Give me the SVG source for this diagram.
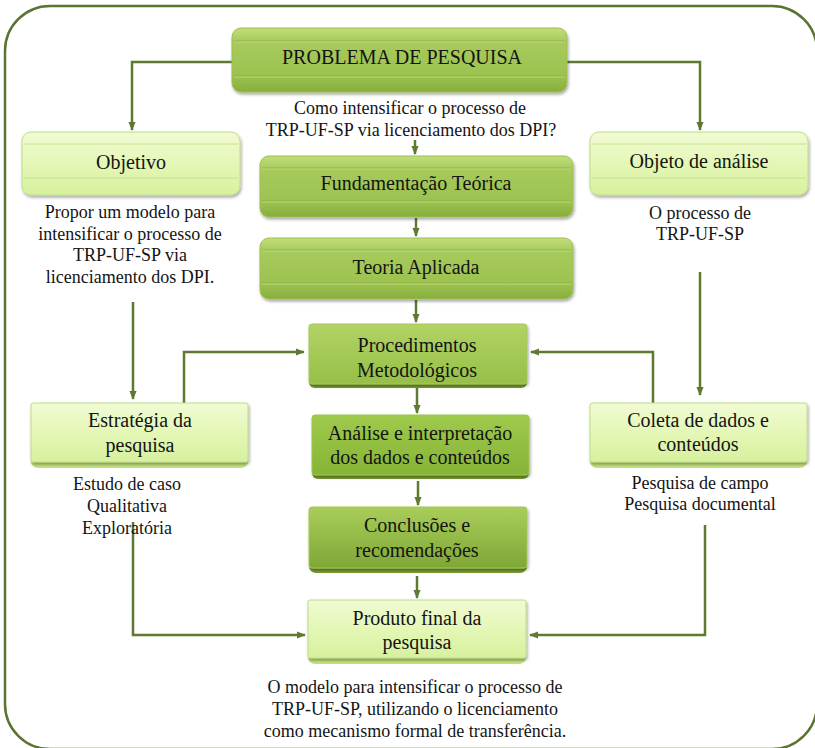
<svg xmlns="http://www.w3.org/2000/svg" width="815" height="748" viewBox="0 0 815 748">
  <defs>
    <linearGradient id="gDark" x1="0" y1="0" x2="0" y2="1">
      <stop offset="0" stop-color="#c3de7a"/>
      <stop offset="0.2" stop-color="#a8cb5c"/>
      <stop offset="0.75" stop-color="#9cc24f"/>
      <stop offset="1" stop-color="#87ad3d"/>
    </linearGradient>
    <linearGradient id="gMid" x1="0" y1="0" x2="0" y2="1">
      <stop offset="0" stop-color="#b2d365"/>
      <stop offset="1" stop-color="#96bf48"/>
    </linearGradient>
    <linearGradient id="gDeep" x1="0" y1="0" x2="0" y2="1">
      <stop offset="0" stop-color="#9fca4c"/>
      <stop offset="1" stop-color="#86b436"/>
    </linearGradient>
    <linearGradient id="gConc" x1="0" y1="0" x2="0" y2="1">
      <stop offset="0" stop-color="#a9cd5a"/>
      <stop offset="1" stop-color="#7fa736"/>
    </linearGradient>
    <linearGradient id="gLight" x1="0" y1="0" x2="0" y2="1">
      <stop offset="0" stop-color="#f1fbd4"/>
      <stop offset="0.5" stop-color="#e4f7b6"/>
      <stop offset="1" stop-color="#d6f19e"/>
    </linearGradient>
    <filter id="shadow" x="-10%" y="-20%" width="120%" height="150%">
      <feDropShadow dx="1" dy="2" stdDeviation="1.6" flood-color="#000" flood-opacity="0.35"/>
    </filter>
    <marker id="arrow" markerUnits="userSpaceOnUse" markerWidth="9" markerHeight="9" viewBox="0 0 10 10" refX="9" refY="5" orient="auto">
      <path d="M0,1 L10,5 L0,9 Z" fill="#5e7a30"/>
    </marker>
  </defs>
  <style>
    text { font-family: "Liberation Serif", "Times New Roman", serif; fill: #141414; text-anchor: middle; }
    .t { font-size: 20px; }
    .b { font-size: 18px; }
    .conn path { fill: none; stroke: #5e7a30; stroke-width: 2.5; }
    .frame { fill: none; stroke: #5b7431; stroke-width: 2.5; }
    .dark { fill: url(#gDark); stroke: #9cc04f; stroke-width: 1; filter: url(#shadow); }
    .mid { fill: url(#gMid); stroke: #a5c85a; stroke-width: 1; filter: url(#shadow); }
    .deep { fill: url(#gDeep); stroke: #9bc64a; stroke-width: 1; filter: url(#shadow); }
    .conc { fill: url(#gConc); stroke: #a4c858; stroke-width: 1; filter: url(#shadow); }
    .light { fill: url(#gLight); stroke: #c0dc88; stroke-width: 1; filter: url(#shadow); }
    .lip { fill: #c3e27e; }
    .lipd { fill: #7a9d34; }
    .band { stroke: #86a93e; stroke-width: 1; opacity: 0.7; }
    .bandL { stroke: #b9d57e; stroke-width: 1; }
    .bandP { stroke: #c7e08f; stroke-width: 1; }
  </style>

  <!-- outer frame -->
  <rect class="frame" x="5" y="6" width="812" height="743" rx="45" ry="45"/>

  <!-- connectors -->
  <g id="connectors" class="conn">
    <path d="M232,62 H132 V130" marker-end="url(#arrow)"/>
    <path d="M567,62 H700 V130" marker-end="url(#arrow)"/>
    <path d="M415,140 V154" marker-end="url(#arrow)"/>
    <path d="M416,218 V236" marker-end="url(#arrow)"/>
    <path d="M416,300 V322" marker-end="url(#arrow)"/>
    <path d="M417,388 V413" marker-end="url(#arrow)"/>
    <path d="M418,481 V505" marker-end="url(#arrow)"/>
    <path d="M417,576 V598" marker-end="url(#arrow)"/>
    <path d="M133,302 V399" marker-end="url(#arrow)"/>
    <path d="M700,272 V395" marker-end="url(#arrow)"/>
    <path d="M184,403 V352 H304" marker-end="url(#arrow)"/>
    <path d="M653,403 V352 H531" marker-end="url(#arrow)"/>
    <path d="M133,522 V635 H305" marker-end="url(#arrow)"/>
    <path d="M705,525 V635 H530" marker-end="url(#arrow)"/>
  </g>

  <!-- problema de pesquisa -->
  <g id="problema">
    <rect class="dark" x="232" y="28" width="335" height="64" rx="9"/>
    <line class="band" x1="234" y1="41" x2="565" y2="41"/>
    <line class="bandL" x1="234" y1="42" x2="565" y2="42"/>
    <line class="band" x1="234" y1="76" x2="565" y2="76"/>
    <line class="bandL" x1="234" y1="77" x2="565" y2="77"/>
    <text class="t" x="402" y="64">PROBLEMA DE PESQUISA</text>
  </g>
  <g id="problema-texto">
    <text class="b" x="410" y="114">Como intensificar o processo de</text>
    <text class="b" x="411" y="136">TRP-UF-SP via licenciamento dos DPI?</text>
  </g>

  <!-- objetivo -->
  <g id="objetivo">
    <rect class="light" x="22" y="132" width="218" height="63" rx="9"/>
    <line class="bandP" x1="24" y1="144" x2="238" y2="144"/>
    <line class="bandP" x1="24" y1="178" x2="238" y2="178"/>
    <text class="t" x="131" y="169">Objetivo</text>
    <text class="b" x="130" y="218">Propor um modelo para</text>
    <text class="b" x="130" y="240">intensificar o processo de</text>
    <text class="b" x="130" y="261">TRP-UF-SP via</text>
    <text class="b" x="130" y="283">licenciamento dos DPI.</text>
  </g>

  <!-- objeto de análise -->
  <g id="objeto">
    <rect class="light" x="590" y="132" width="218" height="63" rx="9"/>
    <line class="bandP" x1="592" y1="144" x2="806" y2="144"/>
    <line class="bandP" x1="592" y1="178" x2="806" y2="178"/>
    <text class="t" x="699" y="168">Objeto de análise</text>
    <text class="b" x="700" y="219">O processo de</text>
    <text class="b" x="700" y="240">TRP-UF-SP</text>
  </g>

  <!-- fundamentação teórica -->
  <g id="fundamentacao">
    <rect class="dark" x="260" y="156" width="313" height="61" rx="9"/>
    <line class="band" x1="262" y1="168" x2="571" y2="168"/>
    <line class="bandL" x1="262" y1="169" x2="571" y2="169"/>
    <line class="band" x1="262" y1="201" x2="571" y2="201"/>
    <line class="bandL" x1="262" y1="202" x2="571" y2="202"/>
    <text class="t" x="416" y="190">Fundamentação Teórica</text>
  </g>

  <!-- teoria aplicada -->
  <g id="teoria">
    <rect class="dark" x="260" y="238" width="313" height="61" rx="9"/>
    <line class="band" x1="262" y1="250" x2="571" y2="250"/>
    <line class="bandL" x1="262" y1="251" x2="571" y2="251"/>
    <line class="band" x1="262" y1="283" x2="571" y2="283"/>
    <line class="bandL" x1="262" y1="284" x2="571" y2="284"/>
    <text class="t" x="416" y="274">Teoria Aplicada</text>
  </g>

  <!-- procedimentos metodológicos -->
  <g id="procedimentos">
    <rect class="lipd" x="309" y="330" width="218" height="58" rx="6"/>
    <rect class="mid" x="309" y="324" width="218" height="60" rx="3"/>
    <text class="t" x="417" y="352">Procedimentos</text>
    <text class="t" x="417" y="377">Metodológicos</text>
  </g>

  <!-- análise e interpretação -->
  <g id="analise">
    <rect class="lipd" x="312" y="422" width="217" height="57" rx="6"/>
    <rect class="deep" x="312" y="415" width="217" height="60" rx="3"/>
    <text class="t" x="420" y="440">Análise e interpretação</text>
    <text class="t" x="420" y="464">dos dados e conteúdos</text>
  </g>

  <!-- conclusões -->
  <g id="conclusoes">
    <rect class="lipd" x="309" y="514" width="218" height="59" rx="7"/>
    <rect class="conc" x="309" y="507" width="218" height="61" rx="3"/>
    <text class="t" x="417" y="532">Conclusões e</text>
    <text class="t" x="417" y="557">recomendações</text>
  </g>

  <!-- estratégia da pesquisa -->
  <g id="estrategia">
    <rect class="lip" x="31" y="409" width="217" height="59" rx="7"/>
    <rect class="light" x="31" y="403" width="217" height="59" rx="2"/>
    <text class="t" x="140" y="427">Estratégia da</text>
    <text class="t" x="140" y="452">pesquisa</text>
    <text class="b" x="127" y="490">Estudo de caso</text>
    <text class="b" x="127" y="512">Qualitativa</text>
    <text class="b" x="127" y="534">Exploratória</text>
  </g>

  <!-- coleta de dados -->
  <g id="coleta">
    <rect class="lip" x="590" y="409" width="217" height="59" rx="7"/>
    <rect class="light" x="590" y="403" width="217" height="59" rx="2"/>
    <text class="t" x="698" y="427">Coleta de dados e</text>
    <text class="t" x="698" y="451">conteúdos</text>
    <text class="b" x="700" y="489">Pesquisa de campo</text>
    <text class="b" x="700" y="510">Pesquisa documental</text>
  </g>

  <!-- produto final -->
  <g id="produto">
    <rect class="lip" x="308" y="606" width="218" height="58" rx="7"/>
    <rect class="light" x="308" y="600" width="218" height="58" rx="2"/>
    <text class="t" x="417" y="625">Produto final da</text>
    <text class="t" x="417" y="649">pesquisa</text>
    <text class="b" x="415" y="693">O modelo para intensificar o processo de</text>
    <text class="b" x="415" y="715">TRP-UF-SP, utilizando o licenciamento</text>
    <text class="b" x="415" y="737">como mecanismo formal de transferência.</text>
  </g>
</svg>
